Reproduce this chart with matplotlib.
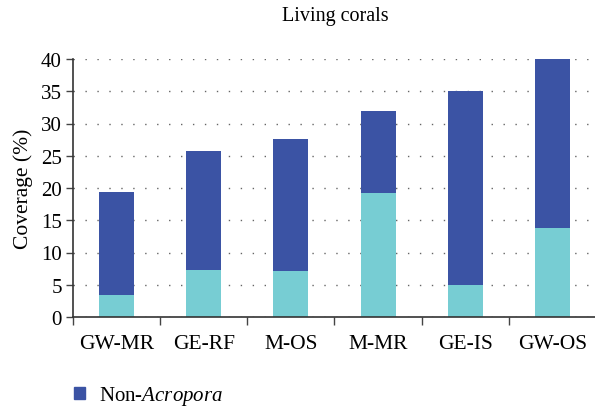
import matplotlib
matplotlib.use('Agg')
import matplotlib.pyplot as plt
import numpy as np
from matplotlib.patches import Patch

# ── Data ────────────────────────────────────────────────────────────────────────
sites     = ['GW-MR', 'GE-RF', 'M-OS', 'M-MR', 'GE-IS', 'GW-OS']
acropora  = [3.4, 7.3, 7.1, 19.2, 5.0, 13.8]
total     = [19.4, 25.8, 27.6, 32.0, 35.1, 40.0]
non_acro  = [t - a for t, a in zip(total, acropora)]

CYAN = '#77cdd3'
BLUE = '#3b53a4'

plt.rcParams['font.family'] = 'Liberation Serif'
plt.rcParams['mathtext.fontset'] = 'custom'
plt.rcParams['mathtext.rm'] = 'Liberation Serif'
plt.rcParams['mathtext.it'] = 'Liberation Serif:italic'

fig = plt.figure(figsize=(5.95, 4.10), dpi=100)
ax = fig.add_axes([73 / 595, 1 - 318 / 410, 523 / 595, 258 / 410])

x = np.arange(len(sites))
ax.bar(x, acropora, width=0.4, color=CYAN, zorder=2)
ax.bar(x, non_acro, width=0.4, bottom=acropora, color=BLUE, zorder=2)

ax.set_xlim(-0.5, len(sites) - 0.5)
ax.set_ylim(0, 40)
ax.set_yticks(range(0, 41, 5))

# ticks at category boundaries, labels in between
ax.set_xticks(np.arange(-0.5, len(sites) + 0.5, 1))
ax.set_xticklabels([])
ax.set_xticks(x, minor=True)
ax.set_xticklabels(sites, minor=True)
ax.tick_params(axis='x', which='minor', length=0, pad=12, labelsize=15.5)
ax.tick_params(axis='x', which='major', length=6, width=1, color='#444444')
ax.tick_params(axis='y', length=5, width=1, color='#444444', labelsize=15, pad=3)

for sp in ['top', 'right']:
    ax.spines[sp].set_visible(False)
for sp in ['left', 'bottom']:
    ax.spines[sp].set_linewidth(1.2)
    ax.spines[sp].set_color('#333333')

ax.yaxis.grid(True, linestyle=(0, (1, 7.6)), linewidth=1, color='#666666', zorder=0)
ax.set_axisbelow(True)

ax.set_ylabel('Coverage (%)', fontsize=15.5, labelpad=6)
fig.text(335 / 595, 1 - 17 / 410, 'Living corals', ha='center', va='center', fontsize=14.5)

fig.legend(handles=[Patch(color=BLUE, label='Non-$\\mathit{Acropora}$')],
           loc='center left', bbox_to_anchor=(74 / 595, 1 - 397 / 410),
           frameon=False, fontsize=15, handlelength=0.55, handleheight=0.55,
           handletextpad=0.65, borderaxespad=0, borderpad=0)

fig.savefig('out.png', dpi=100)
